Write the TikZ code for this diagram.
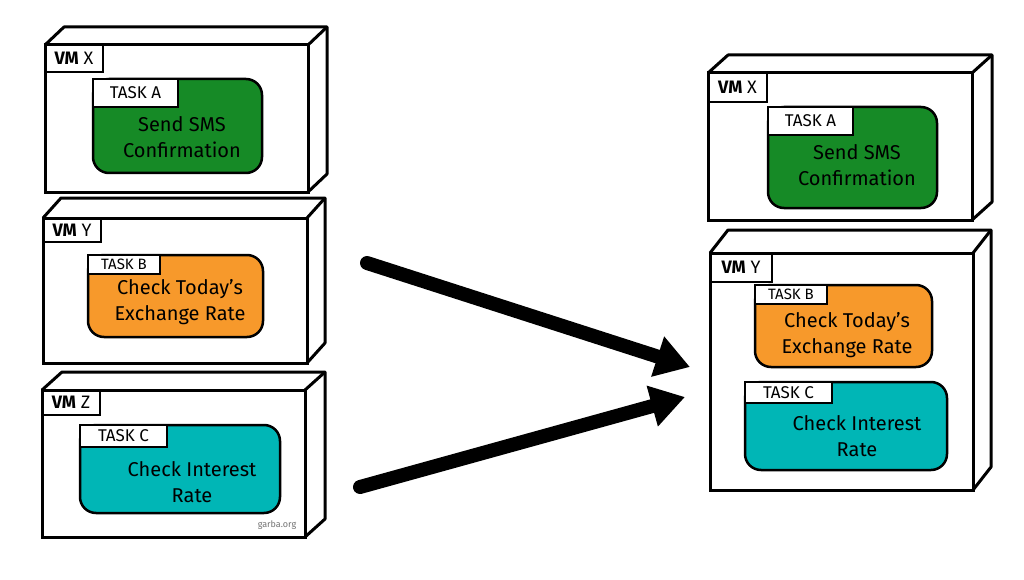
\documentclass[tikz,border=0pt]{standalone}
\usepackage{fontspec}
\setmainfont{Fira Sans}
\usetikzlibrary{arrows.meta,calc,positioning}
\definecolor{smsgreen}{RGB}{22,138,38}
\definecolor{rateorange}{RGB}{247,153,43}
\definecolor{rateteal}{RGB}{0,182,182}
\newcommand{\vmline}{3pt}
\newcommand{\taskline}{2.5pt}
% top and side face of a vm box
\newcommand{\vmdepth}[3]{%
  \draw[line width=\vmline, line join=round] (#1.north west) -- ++(#2,#3)
    -- ($(#1.north east)+(#2,#3)$) -- ($(#1.south east)+(#2,#3)$) -- (#1.south east);
  \draw[line width=\vmline] (#1.north east) -- ++(#2,#3);}

\begin{document}
\begin{tikzpicture}[x=1pt,y=-1pt]
    \tikzset{
        vmbox/.style = {draw, line width=\vmline, fill=white, anchor=north west,
            minimum width=263pt, minimum height=147pt, inner sep=0pt, outer sep=0pt},
        vmtag/.style = {draw, line width=\taskline, anchor=north west, minimum width=58pt,
            minimum height=27pt, inner sep=0pt, outer sep=0pt, font=\fontsize{18}{18}\selectfont},
        taskbox/.style = {draw, line width=\taskline, rounded corners=16pt, anchor=north west,
            minimum width=169pt, minimum height=94pt, inner sep=0pt, outer sep=0pt},
        tasktag/.style = {draw, line width=2pt, fill=white, anchor=north west, minimum width=85pt,
            minimum height=28pt, inner sep=0pt, outer sep=0pt, font=\fontsize{17}{17}\selectfont},
        tasktext/.style = {align=center, font=\fontsize{20}{26}\selectfont},
        bigarrow/.style = {line width=14pt, line cap=round, -{Triangle[length=34pt,width=40pt]}}
    }
    \useasboundingbox (0,0) rectangle (1024,580);
    %\draw[help lines, step=50] (0,0) grid (1024,580);

    % before: one task per vm
    \node[vmbox] (vmx) at (45,45) {};
    \vmdepth{vmx}{19}{-18}
    \node[vmtag] (vmxtag) at (vmx.north west) {{\bfseries VM} X};
    \node[taskbox, fill=smsgreen] (taska) at (93,79) {};
    \node[tasktag] (taskatag) at (taska.north west) {TASK A};
    \node[tasktext] (taskatext) at (182,137) {Send SMS\\Confirmation};

    \node[vmbox, minimum width=264pt, minimum height=145pt] (vmy) at (43,218) {};
    \vmdepth{vmy}{18}{-20}
    \node[vmtag, minimum height=24pt] (vmytag) at (vmy.north west) {{\bfseries VM} Y};
    \node[taskbox, fill=rateorange, minimum width=175pt, minimum height=82pt] (taskb) at (88,255) {};
    \node[tasktag, minimum width=72pt, minimum height=19pt, font=\fontsize{15}{15}\selectfont] (taskbtag) at (taskb.north west) {TASK B};
    \node[tasktext] (taskbtext) at (180,302) {Check Today's\\Exchange Rate};

    \node[vmbox] (vmz) at (42,390) {};
    \vmdepth{vmz}{20}{-18}
    \node[vmtag, minimum height=25pt] (vmztag) at (vmz.north west) {{\bfseries VM} Z};
    \node[taskbox, fill=rateteal, minimum width=200pt, minimum height=88pt] (taskc) at (80,425) {};
    \node[tasktag, minimum width=87pt, minimum height=22pt] (taskctag) at (taskc.north west) {TASK C};
    \node[tasktext] (taskctext) at (192,482) {Check Interest\\Rate};
    \node[text=black!55, font=\fontsize{9}{9}\selectfont] (credit) at (277,525) {garba.org};

    % after: b and c share vm y
    \node[vmbox, minimum width=264pt] (newvmx) at (708,73) {};
    \vmdepth{newvmx}{20}{-18}
    \node[vmtag, minimum width=59pt, minimum height=29pt] (newvmxtag) at (newvmx.north west) {{\bfseries VM} X};
    \node[taskbox, fill=smsgreen, minimum height=101pt] (newtaska) at (768,107) {};
    \node[tasktag] (newtaskatag) at (newtaska.north west) {TASK A};
    \node[tasktext] (newtaskatext) at (857,165) {Send SMS\\Confirmation};

    \node[vmbox, minimum height=237pt] (newvmy) at (710,253) {};
    \vmdepth{newvmy}{18}{-23}
    \node[vmtag, minimum width=62pt, minimum height=29pt] (newvmytag) at (newvmy.north west) {{\bfseries VM} Y};
    \node[taskbox, fill=rateorange, minimum width=177pt, minimum height=82pt] (newtaskb) at (755,285) {};
    \node[tasktag, minimum width=72pt, minimum height=19pt, font=\fontsize{15}{15}\selectfont] (newtaskbtag) at (newtaskb.north west) {TASK B};
    \node[tasktext] (newtaskbtext) at (847,335) {Check Today's\\Exchange Rate};
    \node[taskbox, fill=rateteal, minimum width=202pt, minimum height=88pt] (newtaskc) at (745,382) {};
    \node[tasktag, minimum width=87pt, minimum height=21pt] (newtaskctag) at (newtaskc.north west) {TASK C};
    \node[tasktext] (newtaskctext) at (857,436) {Check Interest\\Rate};

    % arrows
    \coordinate (fromy) at (367,263);
    \coordinate (toy) at (690,367);
    \coordinate (fromz) at (360,487);
    \coordinate (toz) at (685,397);
    \draw[bigarrow] (fromy) -- (toy);
    \draw[bigarrow] (fromz) -- (toz);
\end{tikzpicture}
\end{document}
